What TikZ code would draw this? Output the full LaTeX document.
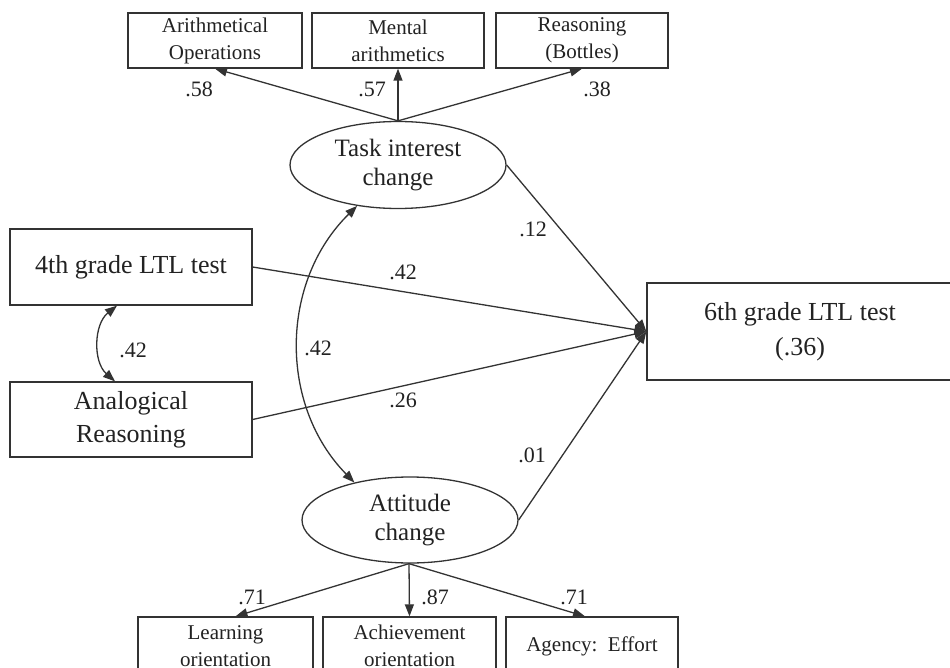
\documentclass[tikz,border=0pt]{standalone}
\usepackage{fontspec}
\setmainfont{Liberation Serif}
\usetikzlibrary{shapes.geometric,arrows.meta}
\definecolor{inkline}{HTML}{333333}
\definecolor{inktext}{HTML}{222222}
\begin{document}
\begin{tikzpicture}[x=1bp,y=-1bp,
  every node/.style={text=inktext},
  obsbox/.style={draw=inkline, line width=1.3bp, rectangle, inner sep=0pt, align=center},
  smallbox/.style={obsbox, font=\fontsize{21bp}{27bp}\selectfont},
  bigbox/.style={obsbox, font=\fontsize{26bp}{33bp}\selectfont},
  latent/.style={draw=inkline, line width=1.3bp, ellipse, inner sep=0pt, align=center,
    font=\fontsize{25bp}{29bp}\selectfont},
  coef/.style={inner sep=0pt, font=\fontsize{22bp}{26bp}\selectfont},
  tip/.tip={Triangle[length=12bp,width=9bp]},
  effect/.style={draw=inkline, line width=1.3bp, -tip},
  covar/.style={draw=inkline, line width=1.3bp, tip-tip}]
\clip (0,0) rectangle (950,668);
\fill[white] (0,0) rectangle (950,668);

% indicators of task interest change
\node[smallbox, minimum width=174bp, minimum height=55bp] (arith) at (215,40.5) {Arithmetical\\Operations};
\node[smallbox, minimum width=172bp, minimum height=55bp] (mental) at (398,40.5) {Mental\\arithmetics};
\node[smallbox, minimum width=172bp, minimum height=55bp] (bottles) at (582,40.5) {Reasoning\\(Bottles)};

% latent factors
\node[latent, minimum width=216bp, minimum height=87bp] (task) at (398,165) {Task interest\\change};
\node[latent, minimum width=216bp, minimum height=86bp] (att) at (410,520) {Attitude\\change};

% predictors and outcome
\node[bigbox, minimum width=242bp, minimum height=76bp] (fourth) at (131,267) {4th grade LTL test};
\node[bigbox, minimum width=242bp, minimum height=75bp] (anal) at (131,419.5) {Analogical\\Reasoning};
\node[bigbox, minimum width=306bp, minimum height=97bp,
  font=\fontsize{26bp}{35bp}\selectfont] (six) at (800,331.5) {6th grade LTL test\\(.36)};

% indicators of attitude change
\node[smallbox, minimum width=175bp, minimum height=58bp] (learn) at (225.5,646) {Learning\\orientation};
\node[smallbox, minimum width=173bp, minimum height=58bp] (achieve) at (409.5,646) {Achievement\\orientation};
\node[smallbox, minimum width=172bp, minimum height=58bp] (agency) at (592,646) {Agency:\ \ Effort};

% loadings
\draw[effect] (task.north) -- (arith.south);
\draw[effect] (task.north) -- (mental.south);
\draw[effect] (task.north) -- (bottles.south);
\draw[effect] ([xshift=-1bp]att.south) -- ([xshift=10bp]learn.north);
\draw[effect] ([xshift=-1bp]att.south) -- (achieve.north);
\draw[effect] ([xshift=-1bp]att.south) -- ([xshift=-7bp]agency.north);

% structural paths
\draw[effect] (fourth.east) -- (six.west);
\draw[effect] (anal.east) -- (six.west);
\draw[effect] (task.east) -- (six.west);
\draw[effect] (att.east) -- (six.west);

% correlations
\draw[covar] ([xshift=-14bp]fourth.south) to[bend right=50] ([xshift=-16bp]anal.north);
\draw[covar] (task.225) to[bend right=45] (att.146);

% coefficients
\node[coef] (l58) at (199,89) {.58};
\node[coef] (l57) at (372,89) {.57};
\node[coef] (l38) at (597,89) {.38};
\node[coef] (l12) at (533,229) {.12};
\node[coef] (l42a) at (403,272) {.42};
\node[coef] (l42b) at (133,350) {.42};
\node[coef] (l42c) at (318,348) {.42};
\node[coef] (l26) at (403,400) {.26};
\node[coef] (l01) at (532,455) {.01};
\node[coef] (l71a) at (252,597) {.71};
\node[coef] (l87) at (435,597) {.87};
\node[coef] (l71b) at (574,597) {.71};
\end{tikzpicture}
\end{document}
